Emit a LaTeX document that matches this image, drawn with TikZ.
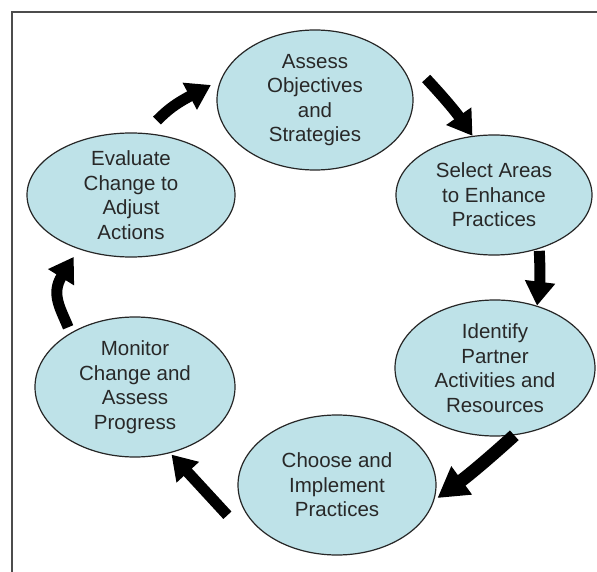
\documentclass[tikz,border=0pt]{standalone}
\usepackage{fontspec}
\setmainfont{Liberation Sans}
\usetikzlibrary{shapes.geometric,arrows.meta}
\definecolor{bubble}{RGB}{190,226,232}
\definecolor{ink}{RGB}{40,40,40}
\begin{document}
\begin{tikzpicture}[x=1pt,y=1pt,
  stage/.style={ellipse, draw=black!85, line width=1.2pt, fill=bubble,
    inner sep=-15pt, align=center, text=ink,
    font=\fontsize{20.5}{24.5}\selectfont},
  flow/.style={line width=11pt, draw=black, -{Triangle[length=24pt,width=29pt]}},
  headout/.style={shorten >=-24pt},
  frameline/.style={line width=2pt, draw=black!70}]
\useasboundingbox (0,0) rectangle (597,-572);
\fill[white] (0,0) rectangle (597,-572);
\draw[frameline] (12,-572) -- (12,-12) -- (597,-12);

\node[stage, minimum width=196pt, minimum height=140pt] (assess) at (315,-100)
  {Assess\\Objectives\\and\\Strategies};
\node[stage, minimum width=196pt, minimum height=120pt] (select) at (494,-195)
  {Select Areas\\to Enhance\\Practices};
\node[stage, minimum width=200pt, minimum height=136pt] (identify) at (495,-368)
  {Identify\\Partner\\Activities and\\Resources};
\node[stage, minimum width=198pt, minimum height=140pt] (choose) at (337,-485)
  {Choose and\\Implement\\Practices};
\node[stage, minimum width=200pt, minimum height=140pt] (monitor) at (135,-387)
  {Monitor\\Change and\\Assess\\Progress};
\node[stage, minimum width=208pt, minimum height=124pt] (evaluate) at (131,-195)
  {Evaluate\\Change to\\Adjust\\Actions};

\draw[flow, headout] ([xshift=6pt,yshift=13pt]evaluate.72) to[out=45, in=208]
  ([xshift=-29pt,yshift=-11.5pt]assess.171.6);
\draw[flow] ([xshift=16pt,yshift=3pt]assess.11.3) to[bend left=4] (select.110);
\draw[flow, shorten <=2pt] (select.-50.6) to[bend left=5] (identify.56.3);
\draw[flow, line width=13pt, -{Triangle[length=30pt,width=33pt]}, shorten >=4pt]
  (identify.-74.7) to[bend left=3] (choose.-9.6);
\draw[flow, shorten >=2pt] ([xshift=-21pt,yshift=2pt]choose.200) -- (monitor.-62);
\draw[flow, headout] ([xshift=-5pt,yshift=4pt]monitor.138.6) to[out=112, in=238]
  ([xshift=-19pt,yshift=-27.6pt]evaluate.227.4);
\end{tikzpicture}
\end{document}
